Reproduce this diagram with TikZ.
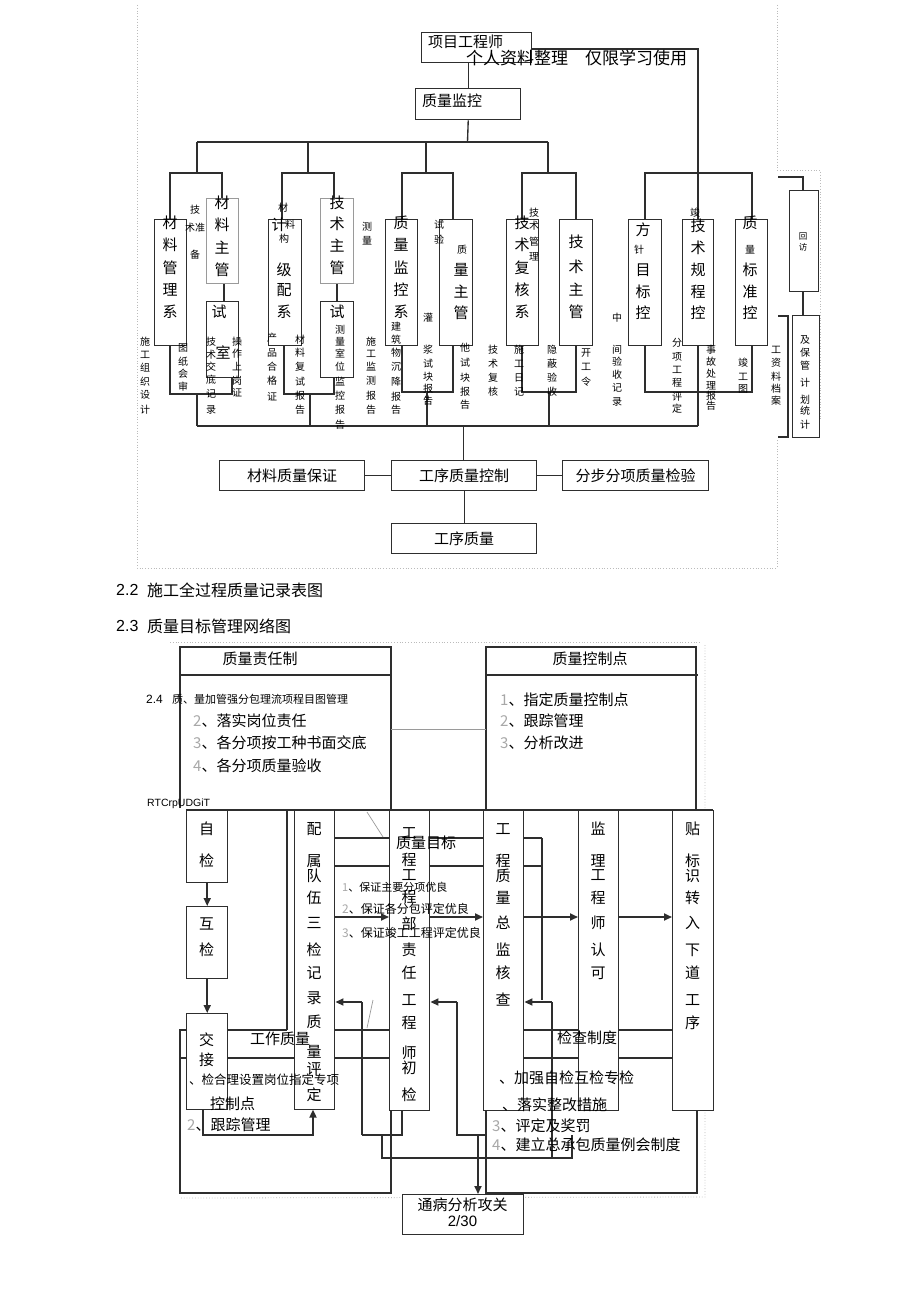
\documentclass[tikz,border=0pt]{standalone}
\usepackage{fontspec}
\setmainfont{Noto Sans CJK SC}
\newfontfamily\lat{Liberation Sans}
\usetikzlibrary{arrows.meta}
\definecolor{lc}{HTML}{2E2E2E}
\definecolor{gl}{HTML}{9A9A9A}
\definecolor{dt}{HTML}{BBBBBB}
\definecolor{nm}{HTML}{A8A8A8}
\newcommand\fs[1]{\fontsize{#1}{#1}\selectfont}
\newcommand\mybox[6][]{\node[bx,#1,minimum width={(#5-#3)*1pt},minimum height={(#6-#4)*1pt}] (#2) at (#3,#4) {};}
\newcommand\vt[3]{\foreach \vch/\yy in {#3} \node[#1] at (#2,\yy) {\vch};}
\newcommand\gn[1]{{\color{nm}#1}}
\begin{document}
\begin{tikzpicture}[x=1pt,y=-1pt,
 ln/.style={draw=lc,line width=1.35pt},
 tk/.style={draw=lc,line width=1.9pt},
 arr/.style={draw=lc,line width=1.7pt,-{Triangle[length=8pt,width=7pt]}},
 dots/.style={draw=dt,line width=0.8pt,dotted},
 thin/.style={draw=gl,line width=0.7pt},
 bx/.style={draw=lc,line width=1.45pt,fill=white,inner sep=0pt,anchor=north west},
 gbx/.style={bx,draw=gl},
 tx/.style={inner sep=0pt,text=black},
 big/.style={tx,font=\fs{15}},
 sm/.style={tx,font=\fs{10}},
 tiny/.style={tx,font=\fs{8.5}},
 ]
\fill[white] (0,0) rectangle (920,1303);
\useasboundingbox (0,0) rectangle (920,1303);

% ---------- dotted page frames ----------
\draw[dots] (137,5) -- (137,568) -- (777,568) -- (777,440);
\draw[dots] (777,5) -- (777,170) -- (820,170) -- (820,420);
\draw[dots] (170,642) -- (700,642);
\draw[dots] (705,645) -- (705,1197) -- (180,1198);

% ---------- top diagram connectors ----------
\coordinate (hub) at (467.5,142);
\draw[ln] (197,142) -- (548,142);
\foreach \x in {197,308,426,548} \draw[ln] (\x,142) -- (\x,173);
% group 1
\draw[ln] (170,219) -- (170,173) -- (222,173) -- (222,198);
\draw[ln] (224,283) -- (224,301);
\draw[ln] (170,345) -- (170,394) -- (232,394) -- (232,377);
\draw[ln] (197,394) -- (197,426);
% group 2
\draw[ln] (282,219) -- (282,173) -- (334,173) -- (334,198);
\draw[ln] (337,283) -- (337,301);
\draw[ln] (284,345) -- (284,394) -- (334,394) -- (334,377);
\draw[ln] (310,394) -- (310,426);
% group 3
\draw[ln] (402,219) -- (402,173) -- (453,173) -- (453,219);
\draw[ln] (402,345) -- (402,392) -- (453,392) -- (453,345);
\draw[ln] (427,392) -- (427,426);
% group 4
\draw[ln] (522,219) -- (522,173) -- (576,173) -- (576,219);
\draw[ln] (522,345) -- (522,392) -- (576,392) -- (576,345);
\draw[ln] (549,392) -- (549,426);
% group 5
\draw[ln] (531,49) -- (698,49) -- (698,219);
\draw[ln] (645,219) -- (645,173) -- (752,173) -- (752,219);
\draw[ln] (645,345) -- (645,392) -- (752,392) -- (752,345);
\draw[ln] (698,345) -- (698,426);
% group 6
\draw[ln] (778,177) -- (803,177) -- (803,190);
\draw[ln] (803,291) -- (803,315);
\draw[ln] (778,316) -- (788,316) -- (788,437) -- (778,437);
% collector
\draw[ln] (197,426) -- (698,426);
\draw[ln] (463.5,426) -- (463.5,460);

% ---------- top diagram boxes ----------
\mybox{pe}{421}{32}{531}{62}
\mybox{qm}{415}{88}{520}{119}
\draw[ln] (qm.north) -- (qm.north |- pe.south);
\draw[ln] (qm.south) -- (hub);
\mybox{g1a}{154}{219}{186}{345}
\mybox[gbx]{g1b}{206}{198}{238}{283}
\mybox{g1c}{206}{301}{238}{377}
\mybox{g2a}{268}{219}{301}{345}
\mybox[gbx]{g2b}{320}{198}{353}{283}
\mybox{g2c}{320}{301}{353}{377}
\mybox{g3a}{385}{219}{417}{345}
\mybox{g3b}{439}{219}{472}{345}
\mybox{g4a}{506}{219}{538}{345}
\mybox{g4b}{559}{219}{592}{345}
\mybox{g5a}{628}{219}{661}{345}
\mybox{g5b}{682}{219}{713}{345}
\mybox{g5c}{735}{219}{767}{345}
\mybox{g6a}{789}{190}{818}{291}
\mybox{g6b}{792}{315}{819}{437}
\mybox{m1}{219}{460}{364}{490}
\mybox{m2}{391}{460}{536}{490}
\mybox{m3}{562}{460}{708}{490}
\mybox{m4}{391}{523}{536}{553}
\draw[ln] (m1.east) -- (m2.west);
\draw[ln] (m2.east) -- (m3.west);
\draw[ln] (m2.south) -- (m4.north);

% ---------- top diagram texts ----------
\node[big,anchor=west] (tpe) at (428,42) {项目工程师};
\node[tx,anchor=west,font=\fs{17}] (twm) at (466,58) {个人资料整理　仅限学习使用};
\node[big,anchor=west] (tqm) at (422,101) {质量监控};
\node[big] (tm1) at (m1) {材料质量保证};
\node[big] (tm2) at (m2) {工序质量控制};
\node[big] (tm3) at (m3) {分步分项质量检验};
\node[big] (tm4) at (m4) {工序质量};
% group 1
\vt{big}{170}{材/223,料/245,管/268,理/290,系/312}
\vt{big}{222}{材/203,料/225,主/248,管/270}
\node[big] at (219,312) {试};
\node[big] at (223,353) {室};
\vt{sm}{211}{技/342,术/355,交/367,底/380,记/394,录/410}
\vt{sm}{195}{技/210,备/255}
\node[sm] at (195,228) {术准};
\vt{sm}{145}{施/342,工/355,组/368,织/382,设/395,计/410}
\vt{sm}{183}{图/348,纸/362,会/374,审/387}
\vt{sm}{237}{操/342,作/354,上/367,岗/381,证/393}
% group 2
\node[sm] at (283,208) {材};
\node[big] at (279,225) {计};
\node[sm] at (290,225) {料};
\node[sm] at (284,239) {构};
\vt{big}{284}{级/270,配/290,系/312}
\vt{big}{337}{技/203,术/224,主/246,管/268}
\node[big] at (337,312) {试};
\vt{sm}{340}{测/330,量/342,室/354,位/367,监/382,控/396,报/410,告/425}
\vt{sm}{272}{产/338,品/353,合/367,格/381,证/397}
\vt{sm}{300}{材/340,料/353,复/367,试/382,报/396,告/410}
\vt{sm}{367}{测/227,量/241}
\vt{sm}{371}{施/342,工/354,监/367,测/381,报/396,告/410}
% group 3
\vt{big}{401}{质/223,量/245,监/268,控/290,系/312}
\vt{sm}{396}{建/327,筑/340,物/353,沉/367,降/382,报/397,告/410}
\vt{sm}{439}{试/225,验/240}
\node[sm] at (462,250) {质};
\vt{big}{461}{量/270,主/292,管/313}
\vt{sm}{428}{灌/318,浆/350,试/364,块/377,报/389,告/401}
\vt{sm}{465}{他/348,试/363,块/378,报/392,告/405}
% group 4
\vt{big}{522}{技/223,术/245,复/268,核/290,系/312}
\vt{sm}{534}{技/213,术/226,管/242,理/257}
\vt{sm}{493}{技/350,术/364,复/378,核/392}
\vt{sm}{519}{施/350,工/364,日/378,记/392}
\vt{sm}{552}{隐/350,蔽/364,验/378,收/392}
\vt{big}{576}{技/242,术/267,主/290,管/312}
\vt{sm}{586}{开/353,工/367,令/382}
% group 5
\vt{sm}{617}{中/318,间/350,验/362,收/375,记/388,录/402}
\vt{big}{643}{方/230,目/270,标/292,控/313}
\node[sm] at (639,250) {针};
\vt{sm}{677}{分/343,项/357,工/370,程/383,评/397,定/409}
\node[sm] at (695,213) {竣};
\vt{big}{698}{技/226,术/248,规/270,程/292,控/313}
\vt{sm}{711}{事/350,故/362,处/374,理/386,报/396,告/406}
\vt{big}{750}{质/223,标/270,准/292,控/313}
\node[sm] at (750,250) {量};
\vt{sm}{743}{竣/363,工/377,图/389}
\vt{sm}{776}{工/350,资/363,料/377,档/389,案/401}
% group 6
\vt{tiny}{803}{回/236,访/247}
\vt{sm}{805}{及/340,保/353,管/366,计/383,划/400,统/411,计/425}

% ---------- headings ----------
\node[tx,anchor=west,font=\lat\fs{16}] (h22) at (116,590) {2.2};
\node[tx,anchor=west,font=\fs{16}] (h22t) at (147,590) {施工全过程质量记录表图};
\node[tx,anchor=west,font=\lat\fs{16}] (h23) at (116,626) {2.3};
\node[tx,anchor=west,font=\fs{16}] (h23t) at (147,626) {质量目标管理网络图};

% ---------- lower diagram frames ----------
\draw[ln] (180,808) -- (180,647) -- (391,647) -- (391,810);
\draw[ln] (180,675) -- (391,675);
\draw[ln] (186,1030) -- (180,1030) -- (180,1193) -- (391,1193) -- (391,1110);
\draw[ln] (486,810) -- (486,647) -- (696,647) -- (696,810);
\draw[ln] (486,675) -- (698,675);
\draw[ln] (486,1110) -- (486,1193) -- (697,1193) -- (697,1110);
\draw[thin] (391,729) -- (486,729);

% ---------- lower diagram connectors ----------
\draw[ln] (186,810) -- (713,810);
\draw[ln] (287,810) -- (287,1030);
\foreach \yy in {838,866} {
 \draw[ln] (334,\yy) -- (389,\yy);
 \draw[ln] (429,\yy) -- (483,\yy);
 \draw[ln] (523,\yy) -- (542,\yy);
}
\draw[ln] (542,838) -- (542,1000);
\draw[ln] (180,1030) -- (287,1030);
\draw[ln] (334,1030) -- (389,1030);
\draw[ln] (180,1058) -- (294,1058);
\draw[ln] (334,1058) -- (389,1058);
\draw[ln] (523,1030) -- (672,1030);
\draw[ln] (523,1058) -- (672,1058);
\draw[thin] (367,812) -- (383,837);
\draw[thin] (373,1000) -- (367,1028);
% bottom wiring
\draw[tk] (362,1135) -- (362,1002);
\draw[ln] (362,1135) -- (402,1135) -- (402,1110);
\draw[ln] (382,1135) -- (382,1158) -- (572,1158) -- (572,1135);
\draw[ln] (457,1002) -- (457,1135) -- (486,1135);
\draw[ln] (552,1002) -- (552,1158);

% ---------- lower diagram boxes ----------
\mybox{b1}{186}{810}{227}{882}
\mybox{b2}{186}{906}{227}{978}
\mybox{b3}{186}{1013}{227}{1109}
\mybox{b4}{294}{810}{334}{1109}
\mybox{b5}{389}{810}{429}{1110}
\mybox{b6}{483}{810}{523}{1110}
\mybox{b7}{578}{810}{618}{1110}
\mybox{b8}{672}{810}{713}{1110}
\mybox{tb}{402}{1194}{523}{1234}
\coordinate (ya) at (0,917);
\coordinate (yb) at (0,1002);
\draw[arr] (b1) -- (b2);
\draw[arr] (b2) -- (b3);
\draw[arr] (b4.east |- ya) -- (b5.west |- ya);
\draw[arr] (b5.east |- ya) -- (b6.west |- ya);
\draw[arr] (b6.east |- ya) -- (b7.west |- ya);
\draw[arr] (b7.east |- ya) -- (b8.west |- ya);
\draw[arr] (362,1002) -- (b4.east |- yb);
\draw[arr] (457,1002) -- (b5.east |- yb);
\draw[arr] (552,1002) -- (b6.east |- yb);
\draw[arr] (203,1109) -- (203,1135) -- (313,1135) -- (313,1109.6);
\draw[arr] (478,1135) -- (tb.north -| 478,0);

% ---------- lower diagram texts ----------
\node[big] (tzr) at (260,659) {质量责任制};
\node[big] (tkz) at (590,659) {质量控制点};
\node[tx,anchor=west,font=\lat\fs{12}] (h24) at (146,699) {2.4};
\node[tx,anchor=west,font=\fs{11}] (h24t) at (172,699) {质、量加管强分包理流项程目图管理};
\node[big,anchor=west] (l2) at (193,721) {\gn{2}、落实岗位责任};
\node[big,anchor=west] (l3) at (193,743) {\gn{3}、各分项按工种书面交底};
\node[big,anchor=west] (l4) at (193,766) {\gn{4}、各分项质量验收};
\node[big,anchor=west] (r1) at (500,700) {\gn{1}、指定质量控制点};
\node[big,anchor=west] (r2) at (500,721) {\gn{2}、跟踪管理};
\node[big,anchor=west] (r3) at (500,743) {\gn{3}、分析改进};
\node[tx,anchor=west,font=\lat\fs{10.5}] (rtc) at (147,804) {RTCrpUDGiT};
\vt{big}{206.5}{自/829,检/861}
\vt{big}{206.5}{互/924,检/950}
\vt{big}{206.5}{交/1040,接/1060}
\vt{big}{314}{配/829,属/861,队/876,伍/898,三/923,检/950,记/973,录/998,质/1022,量/1052,评/1069,定/1095}
\vt{big}{409}{工/833,程/860,工/875,程/897,部/924,责/950,任/973,工/1000,程/1023,师/1053,初/1068,检/1095}
\vt{big}{503}{工/829,程/861,质/876,量/898,总/923,监/950,核/973,查/1000}
\vt{big}{598}{监/829,理/861,工/875,程/898,师/923,认/950,可/973}
\vt{big}{692.5}{贴/829,标/861,识/876,转/898,入/923,下/950,道/973,工/1000,序/1023}
\node[big] (tmb) at (426,843) {质量目标};
\node[tx,anchor=west,font=\fs{11}] (m1t) at (342,887) {\gn{1}、保证主要分项优良};
\node[tx,anchor=west,font=\fs{12}] (m2t) at (342,909) {\gn{2}、保证各分包评定优良};
\node[tx,anchor=west,font=\fs{12}] (m3t) at (342,933) {\gn{3}、保证竣工工程评定优良};
\node[big] (tgz) at (280,1039) {工作质量};
\node[big] (tjc) at (587,1038) {检查制度};
\node[tx,anchor=west,font=\fs{12.5}] (ta) at (189,1080) {、检合理设置岗位指定专项};
\node[big,anchor=west] (tb1) at (210,1104) {控制点};
\node[big,anchor=west] (tb2) at (187,1125) {\gn{2}、跟踪管理};
\node[big,anchor=west] (tc1) at (499,1078) {、加强自检互检专检};
\node[big,anchor=west] (tc2) at (502,1105) {、落实整改措施};
\node[big,anchor=west] (tc3) at (492,1126) {\gn{3}、评定及奖罚};
\node[big,anchor=west] (tc4) at (492,1145) {\gn{4}、建立总承包质量例会制度};
\node[big] (ttb) at (462.5,1205) {通病分析攻关};
\node[tx,font=\lat\fs{15}] (tpg) at (462.5,1221) {2/30};
\end{tikzpicture}
\end{document}
